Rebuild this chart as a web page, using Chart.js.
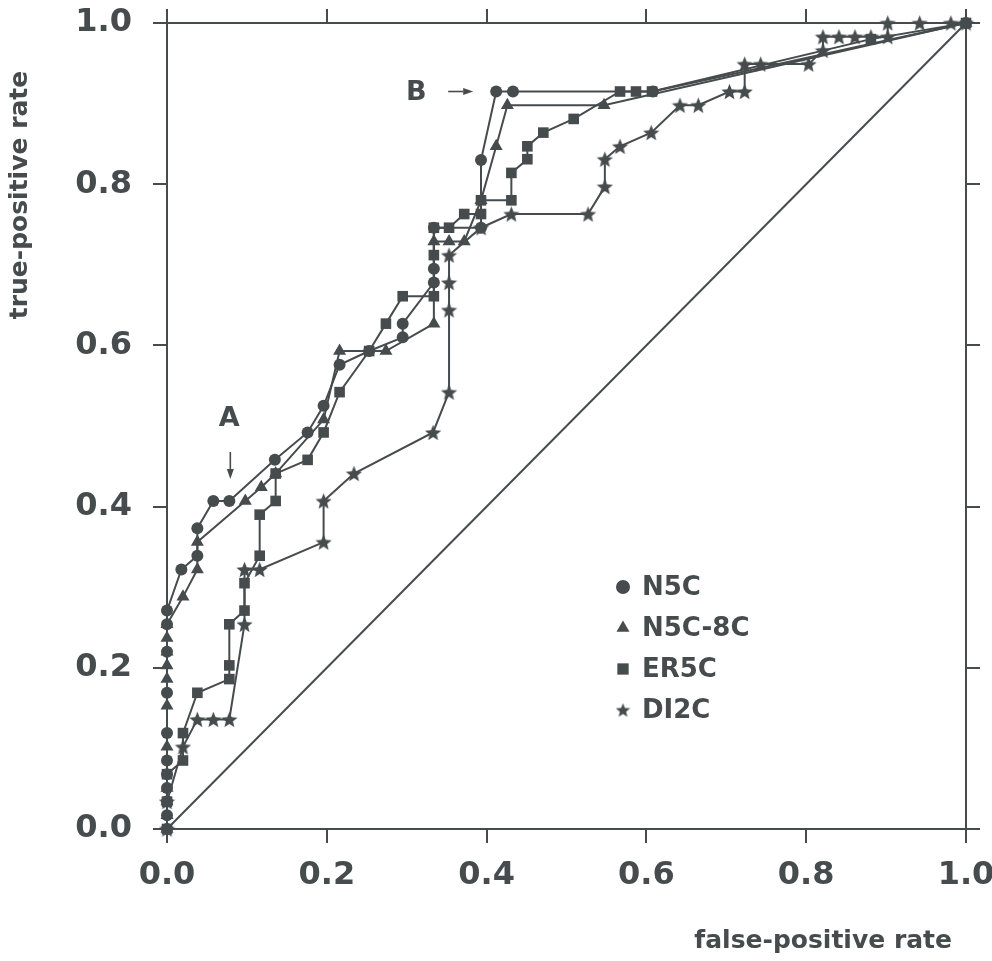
<!DOCTYPE html>
<html>
<head>
<meta charset="utf-8">
<title>ROC curves</title>
<script src="https://cdn.jsdelivr.net/npm/chart.js@4.4.1/dist/chart.umd.min.js"></script>
<style>
  html, body { margin: 0; padding: 0; background: #ffffff; }
  canvas { display: block; }
</style>
</head>
<body>
<canvas id="roc" width="992" height="961"></canvas>
<script>
// Axis ticks shared by all four sides of the frame
const tickValues = [0, 0.2, 0.4, 0.6, 0.8, 1.0];

const seriesNames = ['N5C', 'N5C-8C', 'ER5C', 'DI2C'];

// N5C
const n5cFpr = [0, 0, 0, 0, 0, 0, 0, 0, 0, 0, 0,
  0.018, 0.038, 0.038, 0.058, 0.078, 0.135, 0.176, 0.196, 0.216, 0.253, 0.295, 0.295,
  0.334, 0.334, 0.334, 0.393, 0.393, 0.412, 0.433, 0.608, 1.0];
const n5cTpr = [0, 0.017, 0.034, 0.051, 0.068, 0.085, 0.119, 0.169, 0.220, 0.254, 0.271,
  0.322, 0.339, 0.373, 0.407, 0.407, 0.458, 0.492, 0.525, 0.576, 0.593, 0.610, 0.627,
  0.678, 0.695, 0.746, 0.746, 0.830, 0.915, 0.915, 0.915, 1.0];

// N5C-8C
const n5c8cFpr = [0, 0, 0, 0, 0, 0, 0, 0, 0, 0, 0,
  0.020, 0.038, 0.038, 0.098, 0.118, 0.136, 0.196, 0.216, 0.274, 0.334, 0.334,
  0.353, 0.372, 0.393, 0.412, 0.426, 0.547, 1.0];
const n5c8cTpr = [0, 0.017, 0.034, 0.051, 0.102, 0.153, 0.186, 0.203, 0.220, 0.237, 0.254,
  0.288, 0.322, 0.356, 0.407, 0.424, 0.441, 0.508, 0.593, 0.593, 0.627, 0.729,
  0.729, 0.729, 0.780, 0.847, 0.898, 0.898, 1.0];

// ER5C
const er5cFpr = [0, 0, 0, 0.020, 0.020, 0.038, 0.078, 0.078, 0.078, 0.097, 0.097,
  0.116, 0.116, 0.136, 0.136, 0.176, 0.196, 0.216, 0.253, 0.274, 0.295, 0.334, 0.334,
  0.334, 0.353, 0.372, 0.393, 0.393, 0.431, 0.431, 0.451, 0.451, 0.471, 0.509,
  0.567, 0.587, 0.607, 0.881, 1.0];
const er5cTpr = [0, 0.034, 0.068, 0.085, 0.119, 0.169, 0.186, 0.203, 0.254, 0.271, 0.305,
  0.339, 0.390, 0.407, 0.441, 0.458, 0.492, 0.542, 0.593, 0.627, 0.661, 0.661, 0.712,
  0.746, 0.746, 0.763, 0.763, 0.780, 0.780, 0.814, 0.831, 0.847, 0.864, 0.881,
  0.915, 0.915, 0.915, 0.980, 1.0];

// DI2C
const di2cFpr = [0, 0, 0.020, 0.038, 0.058, 0.078, 0.097, 0.097, 0.116, 0.196, 0.196,
  0.234, 0.333, 0.353, 0.353, 0.353, 0.353, 0.393, 0.431, 0.527, 0.548, 0.548,
  0.567, 0.606, 0.642, 0.665, 0.704, 0.723, 0.723, 0.743, 0.803, 0.821, 0.821,
  0.841, 0.861, 0.881, 0.902, 0.902, 0.942, 0.981, 1.0];
const di2cTpr = [0, 0.034, 0.102, 0.136, 0.136, 0.136, 0.254, 0.322, 0.322, 0.356, 0.407,
  0.441, 0.492, 0.542, 0.644, 0.678, 0.712, 0.746, 0.763, 0.763, 0.797, 0.831,
  0.847, 0.864, 0.898, 0.898, 0.915, 0.915, 0.949, 0.949, 0.949, 0.966, 0.983,
  0.983, 0.983, 0.983, 0.983, 1.0, 1.0, 1.0, 1.0];

// Chance diagonal
const chanceFpr = [0, 1];
const chanceTpr = [0, 1];

// Labelled operating points
const noteLabels = ['A', 'B'];
const noteFpr = [0.078, 0.412];
const noteTpr = [0.407, 0.915];

const INK = '#464b4d';
const FONT = '"DejaVu Sans", "Liberation Sans", sans-serif';

function toPoints(xs, ys) {
  return xs.map((v, i) => ({ x: v, y: ys[i] }));
}

// Filled five-pointed star used as a marker
function starGlyph(size) {
  const c = document.createElement('canvas');
  c.width = size; c.height = size;
  const g = c.getContext('2d');
  const r = size / 2;
  const ri = r * 0.44;
  const cy = r + r * 0.09;
  g.beginPath();
  for (let i = 0; i < 10; i++) {
    const a = -Math.PI / 2 + i * Math.PI / 5;
    const rr = i % 2 ? ri : r;
    const px = r + rr * Math.cos(a);
    const py = cy + rr * Math.sin(a);
    if (i === 0) g.moveTo(px, py); else g.lineTo(px, py);
  }
  g.closePath();
  g.fillStyle = INK;
  g.fill();
  return c;
}

const plotStar = starGlyph(17);
const legendStar = starGlyph(15);

function curve(label, xs, ys, style, radius) {
  return {
    label: label,
    data: toPoints(xs, ys),
    showLine: true,
    borderColor: INK,
    backgroundColor: INK,
    borderWidth: 2,
    tension: 0,
    fill: false,
    pointStyle: style,
    pointRadius: radius,
    pointBorderWidth: 0,
    pointBackgroundColor: INK,
    pointBorderColor: INK,
    clip: false
  };
}

const datasets = [
  curve(seriesNames[0], n5cFpr, n5cTpr, 'circle', 6),
  curve(seriesNames[1], n5c8cFpr, n5c8cTpr, 'triangle', 7.5),
  curve(seriesNames[2], er5cFpr, er5cTpr, 'rect', 7.5),
  curve(seriesNames[3], di2cFpr, di2cTpr, plotStar, 8),
  {
    label: 'chance',
    data: toPoints(chanceFpr, chanceTpr),
    showLine: true,
    borderColor: INK,
    borderWidth: 2,
    pointRadius: 0,
    tension: 0,
    fill: false,
    clip: false
  }
];

const legendMarkers = [
  { pointStyle: 'circle', radius: 7 },
  { pointStyle: 'triangle', radius: 7.5 },
  { pointStyle: 'rect', radius: 8 },
  { pointStyle: legendStar, radius: 8 }
];

function arrow(ctx, x1, y1, x2, y2) {
  const ang = Math.atan2(y2 - y1, x2 - x1);
  const head = 10, half = 3.5;
  const bx = x2 - head * Math.cos(ang);
  const by = y2 - head * Math.sin(ang);
  ctx.beginPath();
  ctx.moveTo(x1, y1);
  ctx.lineTo(bx, by);
  ctx.lineWidth = 1.6;
  ctx.stroke();
  ctx.beginPath();
  ctx.moveTo(x2, y2);
  ctx.lineTo(bx + half * Math.sin(ang), by - half * Math.cos(ang));
  ctx.lineTo(bx - half * Math.sin(ang), by + half * Math.cos(ang));
  ctx.closePath();
  ctx.fill();
}

// Axis titles, legend and the A / B call-outs
const captions = {
  id: 'captions',
  afterDraw(chart) {
    const ctx = chart.ctx;
    const area = chart.chartArea;
    const xs = chart.scales.x;
    const ys = chart.scales.y;
    ctx.save();
    ctx.fillStyle = INK;
    ctx.strokeStyle = INK;

    // axis titles
    ctx.font = 'bold 25px ' + FONT;
    ctx.textBaseline = 'middle';
    ctx.textAlign = 'right';
    ctx.fillText('false-positive rate', area.right - 14, area.bottom + 112);
    ctx.save();
    ctx.translate(20, area.top + 172);
    ctx.rotate(-Math.PI / 2);
    ctx.textAlign = 'center';
    ctx.fillText('true-positive rate', 0, 0);
    ctx.restore();

    // legend
    const lx = area.left + 456;
    const ly = area.top + 564;
    ctx.font = 'bold 26px ' + FONT;
    ctx.textAlign = 'left';
    seriesNames.forEach((name, i) => {
      const y = ly + i * 41;
      const m = legendMarkers[i];
      Chart.helpers.drawPoint(ctx, {
        pointStyle: m.pointStyle, radius: m.radius, rotation: 0, borderWidth: 0
      }, lx, y);
      ctx.fillText(name, lx + 19, y + 1);
    });

    // call-outs
    ctx.font = 'bold 27px ' + FONT;
    ctx.textAlign = 'center';
    noteLabels.forEach((txt, i) => {
      const px = xs.getPixelForValue(noteFpr[i]);
      const py = ys.getPixelForValue(noteTpr[i]);
      if (i === 0) {
        ctx.fillText(txt, px, py - 82);
        arrow(ctx, px + 1, py - 49, px + 1, py - 22);
      } else {
        ctx.fillText(txt, px - 80, py + 1);
        arrow(ctx, px - 48, py, px - 23, py);
      }
    });
    ctx.restore();
  }
};

function edgeScale(position, size, showLabels) {
  const horizontal = position === 'top' || position === 'bottom';
  return {
    type: 'linear',
    position: position,
    min: 0,
    max: 1,
    afterBuildTicks: s => { s.ticks = tickValues.map(v => ({ value: v })); },
    afterFit: s => {
      if (horizontal) s.height = size; else s.width = size;
      // keep the frame fixed: no extra room for overhanging end labels
      s.paddingLeft = 0; s.paddingRight = 0;
      s.paddingTop = 0; s.paddingBottom = 0;
    },
    grid: {
      drawOnChartArea: false,
      drawTicks: true,
      tickLength: 14,
      color: INK,
      lineWidth: 2
    },
    border: { display: true, color: INK, width: 2 },
    ticks: {
      display: showLabels,
      color: INK,
      padding: horizontal ? 13 : 21,
      font: { family: FONT, weight: 'bold', size: 32 },
      maxRotation: 0,
      autoSkip: false,
      callback: v => Number(v).toFixed(1)
    }
  };
}

new Chart(document.getElementById('roc'), {
  type: 'scatter',
  data: { datasets: datasets },
  options: {
    responsive: false,
    animation: false,
    devicePixelRatio: 1,
    layout: { padding: 0, autoPadding: false },
    plugins: {
      legend: { display: false },
      tooltip: { enabled: false }
    },
    scales: {
      x: edgeScale('bottom', 132, true),
      xTop: edgeScale('top', 23, false),
      y: edgeScale('left', 167, true),
      yRight: edgeScale('right', 26, false)
    }
  },
  plugins: [captions]
});
</script>
</body>
</html>
